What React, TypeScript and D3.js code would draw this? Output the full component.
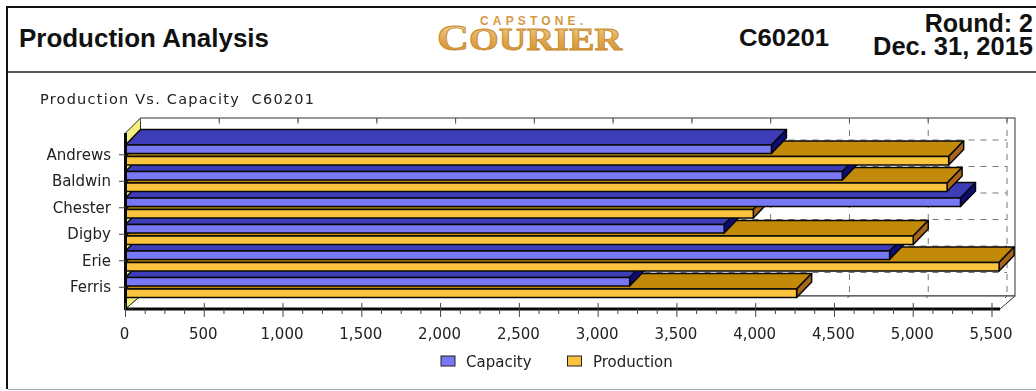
import React from "react";
import * as d3 from "d3";

const categories = ["Andrews", "Baldwin", "Chester", "Digby", "Erie", "Ferris"];
const capacity = [4100, 4550, 5300, 3800, 4850, 3200];
const production = [5225, 5215, 3985, 5000, 5545, 4260];
const ticks = [0, 500, 1000, 1500, 2000, 2500, 3000, 3500, 4000, 4500, 5000, 5500];

const W = 1036, H = 391;
const DX = 15, DY = 15.5;
const x = d3.scaleLinear().domain([0, 5500]).range([125.5, 992]);
const y = d3.scaleBand<string>().domain(categories).range([141.5, 300.5]);
const frontEnd = 1000, floorY = 309, backBottom = 296, backTop = 118;
const fmt = d3.format(",");
const chartFont = "'DejaVu Sans', Verdana, sans-serif";
const arial = "'Liberation Sans', Arial, sans-serif";

const pts = (p: number[][]) => p.map((a) => a.join(",")).join(" ");

function Bar({ value, top, h, front, topC, side }: any) {
  const x0 = x(0), x1 = x(value);
  return (
    <g stroke="#080808" strokeWidth={1.5} strokeLinejoin="round">
      <polygon points={pts([[x0, top], [x0 + DX, top - DY], [x1 + DX, top - DY], [x1, top]])} fill={topC} />
      <polygon points={pts([[x1, top], [x1 + DX, top - DY], [x1 + DX, top - DY + h], [x1, top + h]])} fill={side} />
      <rect x={x0} y={top} width={x1 - x0} height={h} fill={front} />
    </g>
  );
}

export default function App() {
  const bw = y.bandwidth();
  const minor = d3.range(0, 5501, 125).filter((v) => v % 500 !== 0);
  const rowsReversed = [...categories].reverse();
  const boundaries = d3.range(0, categories.length).map((i) => 140 + i * 26.5);
  return (
    <svg width={W} height={H} style={{ position: "absolute", left: 0, top: 0, background: "#fff" }}>
      <defs>
        <linearGradient id="gold" x1="0" x2="0" y1="0" y2="1">
          <stop offset="0" stopColor="#f6dca0" />
          <stop offset="0.55" stopColor="#e0a850" />
          <stop offset="1" stopColor="#c98a2c" />
        </linearGradient>
        <filter id="soft"><feGaussianBlur stdDeviation="0.35" /></filter>
      </defs>

      {/* page frame */}
      <path d="M1036,7 H7 V389" fill="none" stroke="#111" strokeWidth={2} />
      <line x1={7} x2={1036} y1={72} y2={72} stroke="#222" strokeWidth={1.5} />
      <line x1={8} x2={1036} y1={389.5} y2={389.5} stroke="#aaa" strokeWidth={1} />

      {/* header */}
      <g fontFamily={arial} fontWeight="bold" fill="#111">
        <text x={19} y={47} fontSize={25} textLength={250} lengthAdjust="spacingAndGlyphs">Production Analysis</text>
        <text x={739} y={46} fontSize={24} textLength={90} lengthAdjust="spacingAndGlyphs">C60201</text>
        <text x={1033} y={32} fontSize={25} textAnchor="end">Round: 2</text>
        <text x={1033} y={55} fontSize={25} textAnchor="end" textLength={160} lengthAdjust="spacingAndGlyphs">Dec. 31, 2015</text>
      </g>
      <g fontFamily="'Liberation Serif', serif" fontWeight="bold" fill="url(#gold)">
        <text x={480} y={25} fontSize={12} textLength={103} lengthAdjust="spacing" fontFamily={arial} fill="#d49a45">CAPSTONE.</text>
        <text x={437} y={50} fontSize={31} textLength={185} lengthAdjust="spacingAndGlyphs" stroke="#c8892c" strokeWidth={0.8}>
          <tspan fontSize={36}>C</tspan>OURIER
        </text>
      </g>

      {/* chart title */}
      <text x={40} y={104} fontFamily={chartFont} fontSize={14.5} fill="#222" textLength={274} lengthAdjust="spacing" xmlSpace="preserve" style={{ whiteSpace: "pre" }} filter="url(#soft)">Production Vs. Capacity  C60201</text>

      {/* walls */}
      <polygon points={pts([[x(0), 133], [x(0) + DX, backTop], [x(0) + DX, backBottom], [x(0), floorY]])} fill="#f4ee80" stroke="#222" strokeWidth={1} />
      <rect x={x(0) + DX} y={backTop} width={frontEnd - x(0)} height={backBottom - backTop} fill="#fff" stroke="#333" strokeWidth={1} />
      <polygon points={pts([[x(0), floorY], [x(0) + DX, backBottom], [frontEnd + DX, backBottom], [frontEnd, floorY]])} fill="#fff" stroke="#333" strokeWidth={1} />

      {/* grid */}
      <g stroke="#777" strokeWidth={1} strokeDasharray="6 6" fill="none">
        {ticks.slice(1).map((t) => (
          <line key={t} x1={x(t) + DX} x2={x(t) + DX} y1={backTop} y2={backBottom} />
        ))}
        {boundaries.map((b, i) => (
          <line key={i} x1={x(0) + DX} x2={x(5500) + DX} y1={b} y2={b} />
        ))}
      </g>
      <g stroke="#555" strokeWidth={1}>
        {ticks.map((t) => <line key={t} x1={x(t) + DX} x2={x(t) + DX} y1={backTop} y2={backTop + 4} />)}
        {ticks.map((t) => <line key={t} x1={x(t) + DX - 2} x2={x(t) + DX} y1={backBottom + 2} y2={backBottom} />)}
      </g>

      {/* bars */}
      {rowsReversed.map((c) => {
        const i = categories.indexOf(c);
        const t = y(c)!;
        const h = bw * 0.32;
        return (
          <g key={c}>
            <Bar value={production[i]} top={t + bw * 0.565} h={h} front="#fcc43e" topC="#c28a08" side="#a8661c" />
            <Bar value={capacity[i]} top={t + bw * 0.13} h={h} front="#7878f4" topC="#3d3db8" side="#0c0c78" />
          </g>
        );
      })}

      {/* axes */}
      <line x1={x(0)} x2={x(0)} y1={133} y2={floorY + 1} stroke="#080808" strokeWidth={3} />
      <line x1={x(0)} x2={frontEnd} y1={floorY} y2={floorY} stroke="#080808" strokeWidth={3} />
      <g stroke="#444" strokeWidth={1}>
        {ticks.map((t) => <line key={t} x1={x(t)} x2={x(t)} y1={floorY - 6} y2={floorY + 8} />)}
        {minor.map((t) => <line key={t} x1={x(t)} x2={x(t)} y1={floorY} y2={floorY + 5} />)}
        {categories.map((c) => <line key={c} x1={119} x2={x(0)} y1={y(c)! + bw / 2} y2={y(c)! + bw / 2} />)}
      </g>
      <g fontFamily={chartFont} fontSize={15} fill="#222" filter="url(#soft)">
        {categories.map((c) => (
          <text key={c} x={111} y={y(c)! + bw / 2 + 5} textAnchor="end">{c}</text>
        ))}
        {ticks.map((t) => (
          <text key={t} x={x(t) - 1} y={338.5} textAnchor="middle">{fmt(t)}</text>
        ))}
        <rect x={441} y={356} width={14} height={10} fill="#7878f4" stroke="#222" />
        <text x={466} y={366.5}>Capacity</text>
        <rect x={567.5} y={356} width={14} height={10} fill="#fcc43e" stroke="#222" />
        <text x={593} y={366.5}>Production</text>
      </g>
    </svg>
  );
}
